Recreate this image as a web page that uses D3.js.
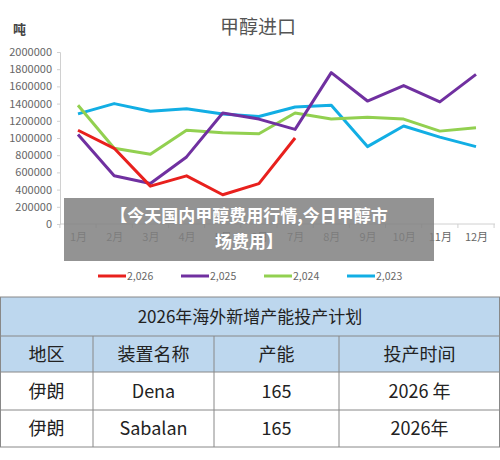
<!DOCTYPE html><html><head><meta charset="utf-8"><script src="https://cdn.jsdelivr.net/npm/d3@7"></script>
<style>body{margin:0;background:#fff}svg{display:block}</style></head><body><svg id="c" width="500" height="460"></svg>
<script>
const months=["1月","2月","3月","4月","5月","6月","7月","8月","9月","10月","11月","12月"];
const yTicks=[0,200000,400000,600000,800000,1000000,1200000,1400000,1600000,1800000,2000000];
const s2026=[1090000,880000,440000,560000,340000,470000,1000000];
const s2025=[1040000,560000,470000,780000,1290000,1220000,1100000,1760000,1430000,1610000,1420000,1740000];
const s2024=[1380000,880000,810000,1090000,1060000,1050000,1290000,1220000,1240000,1220000,1080000,1120000];
const s2023=[1280000,1400000,1310000,1340000,1280000,1250000,1360000,1380000,900000,1140000,1010000,900000];
const seriesNames=["2,026","2,025","2,024","2,023"];
const colors=["#e8201d","#7030a0","#92d050","#12aee4"];
const tableTitle="2026年海外新增产能投产计划";
const headers=["地区","装置名称","产能","投产时间"];
const rows=[["伊朗","Dena","165","2026 年"],["伊朗","Sabalan","165","2026年"]];

const svg=d3.select("#c");
const F="'Noto Sans CJK SC','Noto Sans',sans-serif";
const x=d3.scalePoint().domain(months).range([78,476]);
const y=d3.scaleLinear().domain([0,2000000]).range([224,52]);
svg.append("text").attr("x",258).attr("y",34).attr("text-anchor","middle").attr("font-family",F).attr("font-size",19).attr("fill","#555").text("甲醇进口");
svg.append("text").attr("x",13).attr("y",34).attr("font-family",F).attr("font-size",13).attr("fill","#444").attr("font-weight","bold").text("吨");
const ya=svg.append("g").attr("transform","translate(60,0)").call(d3.axisLeft(y).tickValues(yTicks).tickFormat(d3.format("d")).tickSize(3));
ya.selectAll("text").attr("font-family",F).attr("font-size",11).attr("fill","#666").attr("dx",-2);
ya.selectAll("line,path").attr("stroke","#d0d0d0");
const xa=svg.append("g").attr("transform","translate(0,224)").call(d3.axisBottom(x).tickSize(0).tickPadding(9));
xa.select("path").attr("d","M60,0H495").attr("stroke","#d0d0d0");
xa.selectAll("text").attr("font-family",F).attr("font-size",11).attr("fill","#666");
const step=x.step();
months.concat(["end"]).forEach((m,i)=>{svg.append("line").attr("x1",x(months[0])-step/2+i*step).attr("x2",x(months[0])-step/2+i*step).attr("y1",224).attr("y2",228).attr("stroke","#d0d0d0");});
const line=d3.line().x((d,i)=>x(months[i])).y(d=>y(d));
[s2023,s2024,s2025,s2026].forEach((s,k)=>{const c=colors[3-k];svg.append("path").attr("d",line(s)).attr("fill","none").attr("stroke",c).attr("stroke-width",3).attr("stroke-linejoin","round");});
seriesNames.forEach((n,i)=>{const lx=98+i*83;svg.append("line").attr("x1",lx).attr("x2",lx+28).attr("y1",276).attr("y2",276).attr("stroke",colors[i]).attr("stroke-width",3);
svg.append("text").attr("x",lx+29).attr("y",280).attr("font-family",F).attr("font-size",10.5).attr("fill","#666").text(n);});
// overlay
svg.append("rect").attr("x",64).attr("y",198).attr("width",370).attr("height",63).attr("fill","rgba(128,128,128,0.85)");
["【今天国内甲醇费用行情,今日甲醇市","场费用】"].forEach((t,i)=>svg.append("text").attr("x",249).attr("y",222+i*26).attr("text-anchor","middle").attr("font-family",F).attr("font-weight","bold").attr("font-size",17).attr("fill","#fff").text(t));
// table
const cols=[0,93,214,339,500];
const rY=[297,336,372,410,447];
svg.append("rect").attr("x",0).attr("y",rY[0]).attr("width",500).attr("height",rY[2]-rY[0]).attr("fill","#bdd7ee");
svg.append("text").attr("x",250).attr("y",(rY[0]+rY[1])/2+6).attr("text-anchor","middle").attr("font-family",F).attr("font-size",17).attr("fill","#222").text(tableTitle);
[headers].concat(rows).forEach((r,ri)=>r.forEach((t,ci)=>svg.append("text").attr("x",(cols[ci]+cols[ci+1])/2).attr("y",(rY[ri+1]+rY[ri+2])/2+6.5).attr("text-anchor","middle").attr("font-family",F).attr("font-size",18).attr("fill","#222").text(t)));
rY.forEach((yy,i)=>svg.append("line").attr("x1",0).attr("x2",500).attr("y1",yy).attr("y2",yy).attr("stroke","#888").attr("stroke-width",1));
cols.slice(1,4).forEach(cx=>svg.append("line").attr("x1",cx).attr("x2",cx).attr("y1",rY[1]).attr("y2",rY[4]).attr("stroke","#888"));
svg.append("line").attr("x1",0.5).attr("x2",0.5).attr("y1",rY[0]).attr("y2",rY[4]).attr("stroke","#888");
svg.append("line").attr("x1",499.5).attr("x2",499.5).attr("y1",rY[0]).attr("y2",rY[4]).attr("stroke","#888");
</script></body></html>
